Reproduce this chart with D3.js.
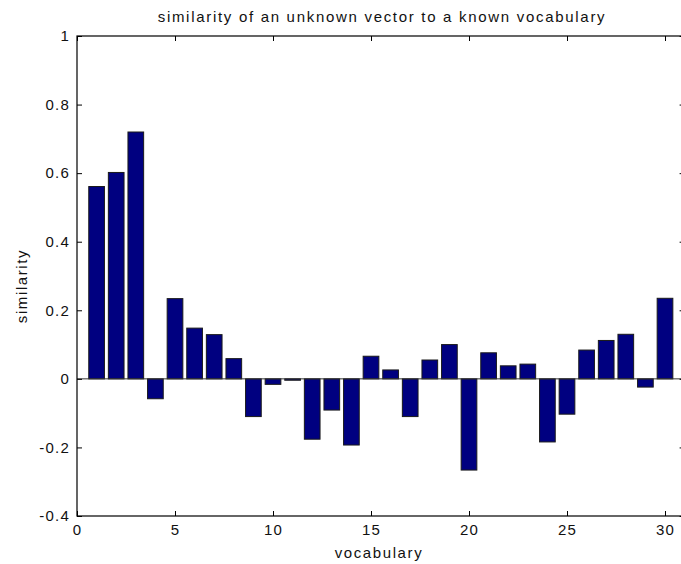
<!DOCTYPE html>
<html>
<head>
<meta charset="utf-8">
<script src="https://cdn.jsdelivr.net/npm/d3@7"></script>
<style>
  body { margin: 0; background: #fff; overflow: hidden; }
  svg { display: block; }
  .tick text { font: 15px "Liberation Sans", Arial, sans-serif; letter-spacing: 1.2px; fill: #111; }
  .lbl { font: 15px "Liberation Sans", Arial, sans-serif; letter-spacing: 1.6px; fill: #111; }
</style>
</head>
<body>
<svg width="681" height="564"></svg>
<script>
// similarity of each vocabulary item (1..30)
var vocab = d3.range(1, 31);
var similarity = [0.561, 0.602, 0.72, -0.058, 0.234, 0.148, 0.129, 0.059, -0.110, -0.016,
                  -0.004, -0.176, -0.091, -0.193, 0.066, 0.026, -0.110, 0.055, 0.100, -0.266,
                  0.076, 0.038, 0.043, -0.184, -0.103, 0.084, 0.112, 0.130, -0.024, 0.235];
var xTicks = [0, 5, 10, 15, 20, 25, 30];
var yTicks = [-0.4, -0.2, 0, 0.2, 0.4, 0.6, 0.8, 1];

var svg = d3.select("svg"),
    margin = {top: 36, left: 77},
    width = 31 * 19.6,
    height = 480;

var g = svg.append("g").attr("transform", "translate(" + margin.left + "," + margin.top + ")");

var x = d3.scaleLinear().domain([0, 31]).range([0, width]),
    y = d3.scaleLinear().domain([-0.4, 1]).range([height, 0]);

var data = vocab.map(function (v, i) { return {v: v, s: similarity[i]}; });
var bw = x(0.8) - x(0);

g.selectAll(".bar")
    .data(data)
    .enter().append("rect")
    .attr("class", "bar")
    .attr("x", function (d) { return x(d.v) - bw / 2; })
    .attr("width", bw)
    .attr("y", function (d) { return y(Math.max(0, d.s)); })
    .attr("height", function (d) { return Math.abs(y(d.s) - y(0)); })
    .attr("fill", "#000080")
    .attr("stroke", "#1a1a1a")
    .attr("stroke-width", 1);

// baseline at zero
g.append("line")
    .attr("x1", 0).attr("x2", width)
    .attr("y1", y(0)).attr("y2", y(0))
    .attr("stroke", "#333").attr("stroke-width", 1);

function styleAxis(sel) {
    sel.select(".domain").remove();
    sel.selectAll(".tick line").attr("stroke", "#000");
}

g.append("g")
    .attr("transform", "translate(0," + height + ")")
    .call(d3.axisBottom(x).tickValues(xTicks).tickSize(-5).tickPadding(8).tickFormat(function (d) { return String(d); }))
    .call(styleAxis);
g.append("g")
    .call(d3.axisTop(x).tickValues(xTicks).tickSize(-5).tickFormat(""))
    .call(styleAxis);
g.append("g")
    .call(d3.axisLeft(y).tickValues(yTicks).tickSize(-5).tickPadding(7).tickFormat(function (d) { return String(+d.toFixed(1)); }))
    .call(styleAxis);
g.append("g")
    .attr("transform", "translate(" + width + ",0)")
    .call(d3.axisRight(y).tickValues(yTicks).tickSize(-5).tickFormat(""))
    .call(styleAxis);

// frame
g.append("rect")
    .attr("width", width).attr("height", height)
    .attr("fill", "none").attr("stroke", "#000").attr("stroke-width", 1.2);

svg.append("text")
    .attr("class", "lbl")
    .attr("x", 382).attr("y", 22)
    .attr("text-anchor", "middle")
    .style("letter-spacing", "1.7px")
    .text("similarity of an unknown vector to a known vocabulary");

svg.append("text")
    .attr("class", "lbl")
    .attr("x", 379).attr("y", 558)
    .attr("text-anchor", "middle")
    .text("vocabulary");

svg.append("text")
    .attr("class", "lbl")
    .attr("transform", "translate(27,286)rotate(-90)")
    .attr("text-anchor", "middle")
    .text("similarity");
</script>
</body>
</html>
